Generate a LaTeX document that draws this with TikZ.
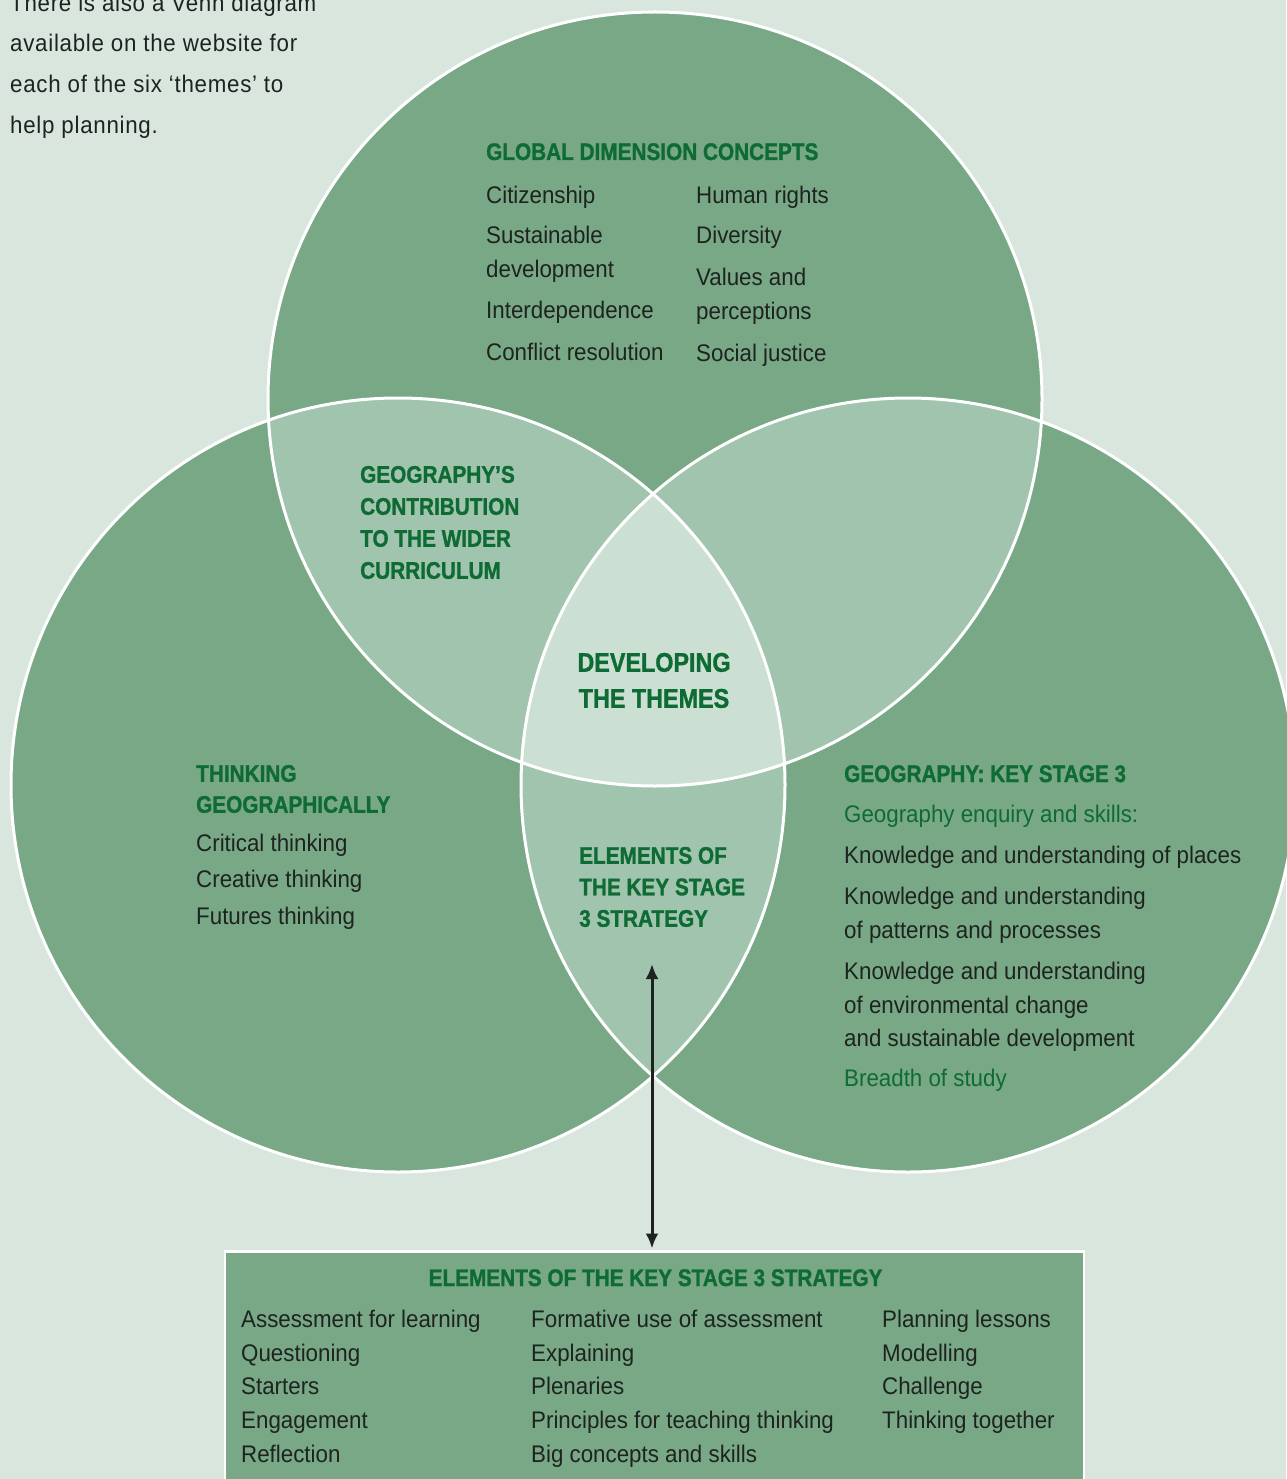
\documentclass[tikz,border=0pt]{standalone}
\usepackage{fontspec}
\setmainfont{Liberation Sans}[FakeStretch=0.93,BoldFeatures={FakeStretch=0.865,FakeBold=1.2}]
\usetikzlibrary{arrows.meta}
\definecolor{bggreen}{HTML}{D8E6DD}
\definecolor{ringgreen}{HTML}{78A886}
\definecolor{pairgreen}{HTML}{A1C4AE}
\definecolor{midgreen}{HTML}{CBE0D3}
\definecolor{headgreen}{HTML}{0E6B34}
\definecolor{bodyink}{HTML}{1E2320}

\begin{document}
\begin{tikzpicture}[x=1pt,y=-1pt,
    head/.style={font=\fontsize{24}{32}\selectfont\bfseries, text=headgreen, inner sep=0pt, align=left},
    body/.style={font=\fontsize{24}{34}\selectfont, text=bodyink, inner sep=0pt, align=left},
    ring/.style={draw=white, line width=3pt},
    link/.style={{Latex[length=15pt,width=13pt]}-{Latex[length=15pt,width=13pt]}, line width=3pt, draw=bodyink}]
  \useasboundingbox (0,0) rectangle (1286,1479);
  \fill[bggreen] (0,0) rectangle (1286,1479);
  \coordinate (ctop) at (655,399);
  \coordinate (cleft) at (398,785);
  \coordinate (cright) at (908,785);

  % the three sets
  \fill[ringgreen] (ctop) circle[radius=387pt] (cleft) circle[radius=387pt] (cright) circle[radius=387pt];
  \begin{scope}
    \clip (ctop) circle[radius=387pt];
    \fill[pairgreen] (cleft) circle[radius=387pt];
    \fill[pairgreen] (cright) circle[radius=387pt];
  \end{scope}
  \begin{scope}
    \clip (cleft) circle[radius=387pt];
    \fill[pairgreen] (cright) circle[radius=387pt];
  \end{scope}
  \begin{scope}
    \clip (ctop) circle[radius=387pt];
    \clip (cleft) circle[radius=387pt];
    \fill[midgreen] (cright) circle[radius=387pt];
  \end{scope}
  \draw[ring] (ctop) circle[radius=387pt] (cleft) circle[radius=387pt] (cright) circle[radius=387pt];

  \node[body, anchor=north west, font=\fontsize{24}{40.7}\selectfont\addfontfeatures{LetterSpace=3}] (intro) at (10,-6.5)
    {There is also a Venn diagram\\available on the website for\\each of the six ‘themes’ to\\help planning.};

  % top circle
  \node[head, anchor=base west] (gdc) at (486,160) {GLOBAL DIMENSION CONCEPTS};
  \node[body, anchor=north west] (gdcleft) at (486,185.8)
    {Citizenship\\[6pt]Sustainable\\development\\[7pt]Interdependence\\[8pt]Conflict resolution};
  \node[body, anchor=north west] (gdcright) at (696,185.8)
    {Human rights\\[6pt]Diversity\\[8pt]Values and\\perceptions\\[8pt]Social justice};

  % overlaps
  \node[head, anchor=north west] (contrib) at (360,465.8)
    {GEOGRAPHY’S\\CONTRIBUTION\\TO THE WIDER\\CURRICULUM};
  \node[head, anchor=north, align=center, font=\fontsize{27}{36}\selectfont\bfseries] (themes) at (654,652.7)
    {DEVELOPING\\THE THEMES};
  \node[head, anchor=north west, font=\fontsize{24}{31.5}\selectfont\bfseries] (ks3short) at (579,846.8)
    {ELEMENTS OF\\THE KEY STAGE\\3 STRATEGY};

  % left circle
  \node[head, anchor=north west, font=\fontsize{24}{31}\selectfont\bfseries] (thinkhead) at (196,764.8)
    {THINKING\\GEOGRAPHICALLY};
  \node[body, anchor=north west, font=\fontsize{24}{36.5}\selectfont] (thinklist) at (196,833.7)
    {Critical thinking\\Creative thinking\\Futures thinking};

  % right circle
  \node[head, anchor=base west] (ks3head) at (844,782) {GEOGRAPHY: KEY STAGE 3};
  \node[body, anchor=north west, font=\fontsize{24}{33.5}\selectfont] (ks3list) at (844,804.7)
    {\textcolor{headgreen}{Geography enquiry and skills:}\\[7.5pt]Knowledge and understanding of places\\[8pt]%
     Knowledge and understanding\\of patterns and processes\\[8pt]Knowledge and understanding\\%
     of environmental change\\and sustainable development\\[6.5pt]\textcolor{headgreen}{Breadth of study}};

  % strategy box
  \node[draw=white, line width=2.5pt, fill=ringgreen, minimum width=859pt, minimum height=320pt,
        inner sep=0pt, anchor=north] (ks3box) at (654.5,1250) {};
  \node[head, anchor=base] (boxhead) at (655.5,1286) {ELEMENTS OF THE KEY STAGE 3 STRATEGY};
  \node[body, anchor=north west, font=\fontsize{24}{33.7}\selectfont] (colA) at (241,1309.7)
    {Assessment for learning\\Questioning\\Starters\\Engagement\\Reflection};
  \node[body, anchor=north west, font=\fontsize{24}{33.7}\selectfont] (colB) at (531,1309.7)
    {Formative use of assessment\\Explaining\\Plenaries\\Principles for teaching thinking\\Big concepts and skills};
  \node[body, anchor=north west, font=\fontsize{24}{33.7}\selectfont] (colC) at (882,1309.7)
    {Planning lessons\\Modelling\\Challenge\\Thinking together};

  \coordinate (arrtip) at (652,964);
  \draw[link] (arrtip) -- ([yshift=1.5pt]arrtip |- ks3box.north);
\end{tikzpicture}
\end{document}
